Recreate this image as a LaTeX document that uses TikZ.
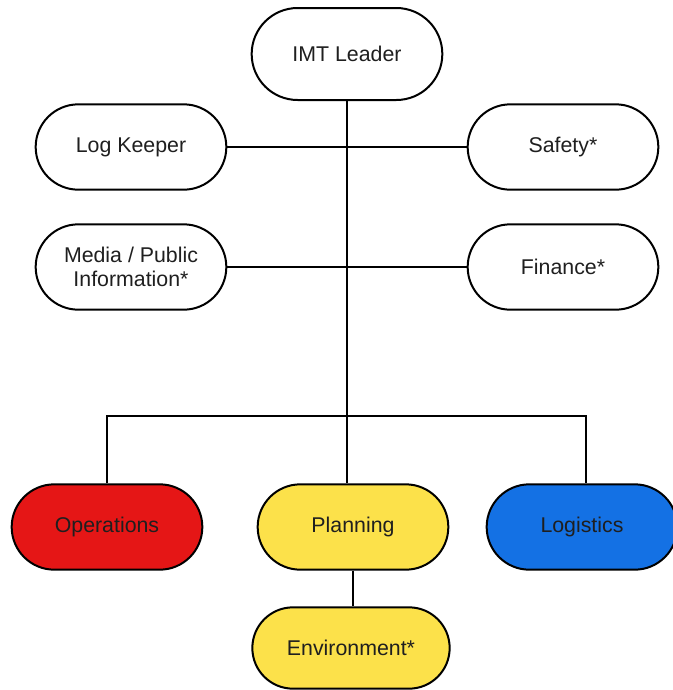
\documentclass[tikz,border=0pt]{standalone}
\usepackage{fontspec}
\setmainfont{Liberation Sans}
\usetikzlibrary{shapes.misc,calc}

\definecolor{opsred}{HTML}{E51616}
\definecolor{planyellow}{HTML}{FCE14A}
\definecolor{logiblue}{HTML}{1471E4}

\begin{document}
\begin{tikzpicture}[x=0.75pt, y=-0.75pt
        , every node/.style={font=\fontsize{16}{18}\selectfont, text=black!88}
        , role/.style={rounded rectangle, draw=black, line width=1.5pt
            , fill=white, minimum width=147pt, minimum height=64pt
            , inner sep=2pt, align=center}
        , link/.style={draw=black, line width=1.5pt}
    ]

    \useasboundingbox (0,0) rectangle (673,690);

    %% command staff at the top
    \node[role, minimum height=69pt] (lead) at (347,54) {IMT Leader};
    \node[role] (logk) at (131,147) {Log Keeper};
    \node[role] (safe) at (563,147) {Safety*};
    \node[role] (media) at (131,267) {Media / Public\\Information*};
    \node[role] (fin) at (563,267) {Finance*};

    %% sections
    \node[role, fill=opsred] (ops) at (107,527) {Operations};
    \node[role, fill=planyellow] (plan) at (353,527) {Planning};
    \node[role, fill=logiblue] (logi) at (582,527) {Logistics};
    \node[role, fill=planyellow, minimum width=152pt, minimum height=61pt]
        (env) at (351,648) {Environment*};

    \coordinate (split) at (347,416);
    \coordinate (logitop) at ($(logi.north)+(4,0)$);

    % trunk down from the leader
    \draw[link] (lead.south) -- (lead.south |- plan.north);

    % staff on both sides
    \draw[link] (logk.east) -- (safe.west);
    \draw[link] (media.east) -- (fin.west);

    % branch out to the sections
    \draw[link] (ops.north) -- (ops.north |- split) -- (logitop |- split)
        -- (logitop);
    \draw[link] (plan.south) -- (plan.south |- env.north);
\end{tikzpicture}
\end{document}
